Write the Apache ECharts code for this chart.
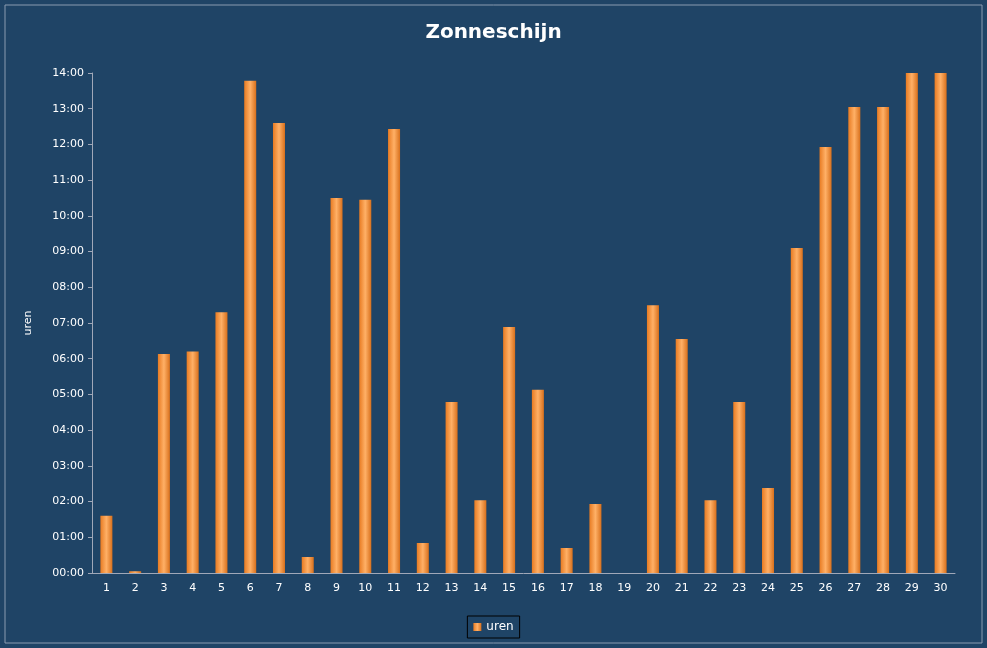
<!DOCTYPE html>
<html><head><meta charset="utf-8">
<script src="https://cdn.jsdelivr.net/npm/echarts@6/dist/echarts.min.js"></script>
<style>html,body{margin:0;padding:0;background:#fff}#c{width:987px;height:648px}</style>
</head><body><div id="c"></div>
<script>
const days = ['1','2','3','4','5','6','7','8','9','10','11','12','13','14','15','16','17','18','19','20','21','22','23','24','25','26','27','28','29','30'];
const uren = [1.6,0.05,6.13,6.2,7.3,13.78,12.6,0.45,10.5,10.45,12.43,0.84,4.79,2.04,6.89,5.13,0.7,1.93,0,7.5,6.55,2.04,4.79,2.38,9.1,11.93,13.05,13.05,14.0,14.0];
const tickLabels = ['00:00','01:00','02:00','03:00','04:00','05:00','06:00','07:00','08:00','09:00','10:00','11:00','12:00','13:00','14:00'];
const chart = echarts.init(document.getElementById('c'));
chart.setOption({
  backgroundColor: '#1F4466',
  graphic: [{type:'rect', shape:{x:5,y:5,width:977,height:638}, style:{fill:'none', stroke:'#8a9bb0', lineWidth:1}}],
  title: {text:'Zonneschijn', left:'center', top:18, textStyle:{color:'#fff', fontSize:20, fontWeight:'bold', fontFamily:'DejaVu Sans'}},
  legend: {bottom:10, left:'center', itemWidth:8, itemHeight:8, icon:'rect', borderColor:'#000', borderWidth:1, padding:[5,6],
    textStyle:{color:'#fff', fontSize:12, fontFamily:'DejaVu Sans'}},
  grid: {left:92, right:32, top:73, bottom:75},
  xAxis: {type:'category', data:days, axisLine:{lineStyle:{color:'#a0a8b8'}}, axisTick:{show:false},
    axisLabel:{color:'#fff', fontSize:11, fontFamily:'DejaVu Sans', margin:10}},
  yAxis: {type:'value', min:0, max:14, interval:1, name:'uren', nameLocation:'middle', nameGap:58, nameRotate:90,
    nameTextStyle:{color:'#fff', fontSize:11, fontFamily:'DejaVu Sans'},
    axisLine:{show:true, lineStyle:{color:'#a0a8b8'}}, axisTick:{show:true, length:4, lineStyle:{color:'#a0a8b8'}},
    splitLine:{show:false},
    axisLabel:{color:'#fff', fontSize:11, fontFamily:'DejaVu Sans', formatter:(v)=>tickLabels[Math.round(v)]}},
  series: [{name:'uren', type:'bar', data:uren, barWidth:12,
    itemStyle:{color:new echarts.graphic.LinearGradient(0,0,1,0,[{offset:0,color:'#E87B22'},{offset:0.5,color:'#FFB066'},{offset:1,color:'#D8701C'}])}}]
});
</script></body></html>
